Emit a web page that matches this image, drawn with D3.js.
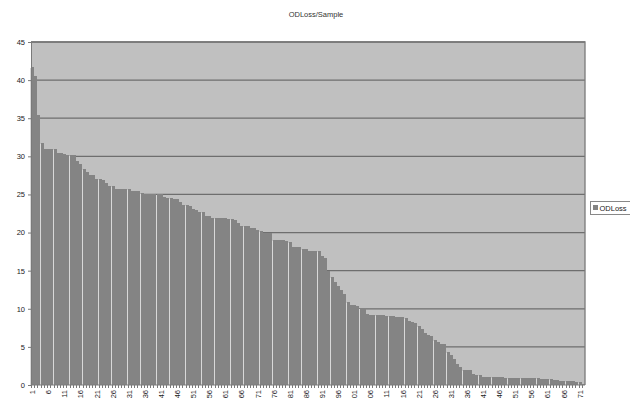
<!DOCTYPE html>
<html lang="en">
  <head>
    <meta charset="utf-8">
    <title>ODLoss/Sample</title>
    <style>
      body { margin: 0; background: white; }
      svg { display: block; font-family: "Liberation Sans", Arial, sans-serif; }
    </style>
    <script src="https://d3js.org/d3.v7.min.js"></script>
  </head>
  <body>
    <script>
    // one value per sample, already sorted high to low
    const odLoss = [
      41.7, 40.6, 35.4, 31.8, 31.0, 31.0, 31.0, 30.9, 30.5, 30.4,
      30.3, 30.2, 30.2, 30.2, 29.4, 29.0, 28.4, 28.0, 27.5, 27.5,
      27.0, 27.0, 26.9, 26.5, 26.1, 26.1, 25.7, 25.7, 25.7, 25.7,
      25.7, 25.4, 25.4, 25.4, 25.2, 25.1, 25.0, 25.0, 25.0, 25.0,
      25.0, 24.7, 24.5, 24.5, 24.4, 24.4, 24.05, 23.6, 23.6, 23.5,
      23.1, 22.96, 22.7, 22.7, 22.2, 22.2, 21.95, 21.95, 21.95, 21.95,
      21.95, 21.8, 21.8, 21.7, 21.2, 20.9, 20.9, 20.9, 20.6, 20.6,
      20.4, 20.25, 19.9, 19.9, 19.9, 19.0, 19.0, 19.0, 19.0, 18.9,
      18.7, 18.1, 18.1, 18.1, 17.85, 17.85, 17.6, 17.6, 17.6, 17.6,
      16.9, 16.6, 14.9, 14.2, 13.5, 13.0, 12.5, 11.9, 10.85, 10.5,
      10.5, 10.4, 10.1, 10.1, 9.3, 9.2, 9.2, 9.2, 9.2, 9.2,
      9.1, 9.05, 9.05, 8.9, 8.9, 8.9, 8.75, 8.4, 8.27, 8.13,
      7.74, 7.4, 6.8, 6.56, 6.4, 5.9, 5.64, 5.38, 5.38, 4.33,
      3.94, 3.4, 2.76, 2.3, 1.97, 1.97, 1.97, 1.44, 1.27, 1.27,
      1.05, 1.05, 1.05, 1.05, 1.05, 1.05, 1.05, 0.92, 0.92, 0.92,
      0.92, 0.92, 0.92, 0.92, 0.92, 0.92, 0.92, 0.92, 0.79, 0.79,
      0.79, 0.79, 0.66, 0.66, 0.52, 0.52, 0.52, 0.52, 0.52, 0.37,
      0.37, 0.1
    ];
    const samples = odLoss.map((v, i) => String(i + 1));

    // every fifth category gets a label, shown as Excel clipped them
    const tickCats = ["1","6","11","16","21","26","31","36","41","46","51","56","61","66","71","76","81","86","91","96",
                      "101","106","111","116","121","126","131","136","141","146","151","156","161","166","171"];
    const tickLabels = ["1","6","11","16","21","26","31","36","41","46","51","56","61","66","71","76","81","86","91","96",
                        "01","06","11","16","21","26","31","36","41","46","51","56","61","66","71"];
    const yTicks = [0, 5, 10, 15, 20, 25, 30, 35, 40, 45];

    const W = 630, H = 402;
    const plot = { left: 31, right: 585, top: 42, bottom: 385 };

    const svg = d3.select("body").append("svg")
      .attr("width", W)
      .attr("height", H);

    const x = d3.scaleBand()
      .domain(samples)
      .range([plot.left, plot.right])
      .padding(0);

    const y = d3.scaleLinear()
      .domain([0, 45])
      .range([plot.bottom, plot.top]);

    // plot background
    svg.append("rect")
      .attr("x", plot.left)
      .attr("y", plot.top)
      .attr("width", plot.right - plot.left)
      .attr("height", plot.bottom - plot.top)
      .attr("fill", "#c0c0c0");

    // gridlines
    svg.append("g")
      .selectAll("line")
      .data(yTicks.filter(d => d > 0))
      .join("line")
      .attr("x1", plot.left)
      .attr("x2", plot.right)
      .attr("y1", d => y(d))
      .attr("y2", d => y(d))
      .attr("stroke", "#6e6e6e")
      .attr("stroke-width", 1.3);

    // light underlay so the 1px rounding gaps read as pale seams like in Excel
    const barTop = (d, i) => Math.round(y(Math.min(d, i > 0 ? odLoss[i - 1] : d)));
    svg.append("g")
      .selectAll("rect")
      .data(odLoss)
      .join("rect")
      .attr("x", (d, i) => Math.round(x(samples[i])) - 1)
      .attr("width", 2)
      .attr("y", (d, i) => barTop(d, i) + 1)
      .attr("height", (d, i) => Math.max(0, plot.bottom - barTop(d, i) - 1))
      .attr("fill", "#d8d8d8")
      .attr("shape-rendering", "crispEdges");

    // bars - rounded the way Excel does, which leaves the odd 1px gap
    svg.append("g")
      .selectAll("rect")
      .data(odLoss)
      .join("rect")
      .attr("x", (d, i) => Math.round(x(samples[i])))
      .attr("width", Math.floor(x.bandwidth()))
      .attr("y", d => Math.round(y(d)))
      .attr("height", d => plot.bottom - Math.round(y(d)))
      .attr("fill", "#848484")
      .attr("shape-rendering", "crispEdges");

    // frame top + right
    svg.append("path")
      .attr("d", `M${plot.left},${plot.top}H${plot.right}V${plot.bottom}`)
      .attr("fill", "none")
      .attr("stroke", "#7a7a7a")
      .attr("stroke-width", 1.3);

    // y axis
    const yAxis = svg.append("g")
      .attr("transform", `translate(${plot.left},0)`)
      .call(d3.axisLeft(y).tickValues(yTicks).tickSize(3).tickPadding(3));
    yAxis.selectAll("path, line").attr("stroke", "#7a7a7a");
    yAxis.selectAll("text")
      .attr("font-size", 7.5)
      .attr("font-family", "Liberation Sans, Arial, sans-serif")
      .attr("fill", "#222");

    // x axis: a little tick between every bar
    const xAxis = svg.append("g")
      .attr("transform", `translate(0,${plot.bottom})`);
    xAxis.append("line")
      .attr("x1", plot.left)
      .attr("x2", plot.right)
      .attr("stroke", "#7a7a7a")
      .attr("stroke-width", 1.2);
    xAxis.selectAll("line.tick")
      .data(samples)
      .join("line")
      .attr("class", "tick")
      .attr("x1", d => Math.round(x(d)) + 0.5)
      .attr("x2", d => Math.round(x(d)) + 0.5)
      .attr("y1", 0)
      .attr("y2", 3)
      .attr("stroke", "#7a7a7a");

    xAxis.selectAll("text")
      .data(tickCats)
      .join("text")
      .attr("transform", d => `translate(${x(d) + x.bandwidth() / 2 + 2.5},5) rotate(-90)`)
      .attr("text-anchor", "end")
      .attr("font-size", 7.5)
      .attr("fill", "#222")
      .text((d, i) => tickLabels[i]);

    // title
    svg.append("text")
      .attr("x", 316)
      .attr("y", 17)
      .attr("text-anchor", "middle")
      .attr("font-size", 7.5)
      .attr("fill", "#333")
      .text("ODLoss/Sample");

    // legend
    const legend = svg.append("g").attr("transform", "translate(590,201)");
    legend.append("rect")
      .attr("x", 0.5)
      .attr("y", 0.5)
      .attr("width", 45)
      .attr("height", 13)
      .attr("fill", "white")
      .attr("stroke", "#888");
    legend.append("rect")
      .attr("x", 3)
      .attr("y", 4)
      .attr("width", 5)
      .attr("height", 5)
      .attr("fill", "#848484");
    legend.append("text")
      .attr("x", 9.5)
      .attr("y", 10)
      .attr("font-size", 7.5)
      .attr("fill", "#222")
      .text("ODLoss");
    </script>
  </body>
</html>
